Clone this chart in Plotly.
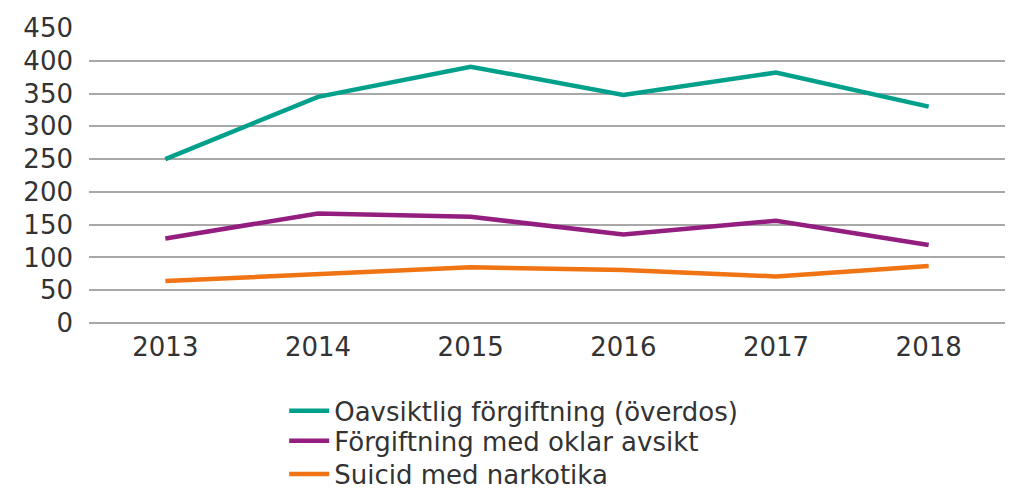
import plotly.graph_objects as go

years = ["2013", "2014", "2015", "2016", "2017", "2018"]
overdos = [250, 345, 391, 348, 382, 330]
oklar = [129, 167, 162, 135, 156, 119]
suicid = [64, 75, 85, 81, 71, 87]

names = ["Oavsiktlig förgiftning (överdos)", "Förgiftning med oklar avsikt", "Suicid med narkotika"]
colors = ["#00A08A", "#931E80", "#F07314"]
legend_ids = ["legend", "legend2", "legend3"]
legend_y = [0.164, 0.102, 0.033]

W, H = 1008, 482  # page body has an 8px margin

fig = go.Figure()
for name, vals, col, lg in zip(names, [overdos, oklar, suicid], colors, legend_ids):
    fig.add_trace(go.Scatter(x=years, y=vals, mode="lines", name=name, legend=lg,
                             line=dict(color=col, width=4.5)))

legend_style = dict(orientation="v", xref="container", x=0.274, xanchor="left",
                    yref="container", yanchor="middle",
                    font=dict(size=26, color="#333333"), itemwidth=40,
                    bgcolor="rgba(0,0,0,0)", borderwidth=0)

fig.update_layout(
    width=W, height=H,
    margin=dict(l=81, r=11, t=20, b=167, autoexpand=False),
    paper_bgcolor="white", plot_bgcolor="white",
    font=dict(family="DejaVu Sans", size=26, color="#333333"),
    showlegend=True,
    legend=dict(legend_style, y=legend_y[0]),
    legend2=dict(legend_style, y=legend_y[1]),
    legend3=dict(legend_style, y=legend_y[2]),
    xaxis=dict(type="category", range=[-0.5, 5.5], showgrid=False, zeroline=False,
               showline=False, ticks="", ticklabelstandoff=6, tickfont=dict(size=26)),
    yaxis=dict(range=[0, 450], dtick=50, showgrid=True, gridcolor="#A8A8A8", gridwidth=2,
               zeroline=True, zerolinecolor="#A8A8A8", zerolinewidth=2,
               showline=False, ticks="", ticklabelstandoff=15,
               tickfont=dict(size=26)),
)

fig.write_html("out.html")
